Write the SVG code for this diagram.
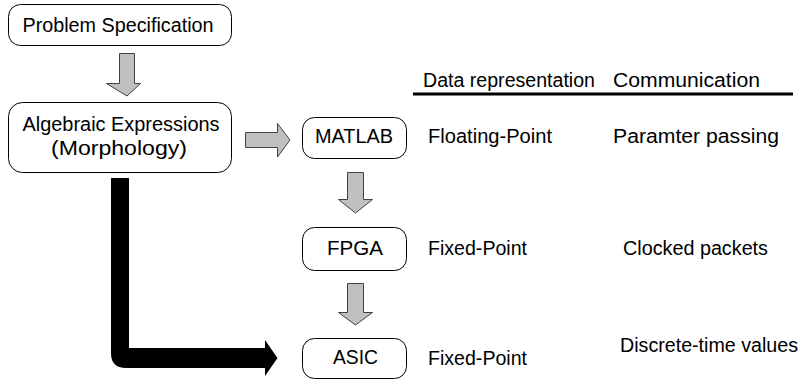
<svg xmlns="http://www.w3.org/2000/svg" width="801" height="382" viewBox="0 0 801 382">
<style>
.box{fill:#fff;stroke:#000;stroke-width:1}
.t{font-family:"Liberation Sans",Arial,sans-serif;font-size:19.5px;fill:#000}
.c{text-anchor:middle}
.ga{fill:#c0c0c0;stroke:#404040;stroke-width:1}
</style>
<rect width="801" height="382" fill="#fff"/>
<g id="problem">
<rect class="box" x="8.5" y="4.5" width="223" height="41" rx="12"/>
<text class="t c" x="118" y="32" textLength="191" lengthAdjust="spacingAndGlyphs">Problem Specification</text>
</g>
<g id="algebraic">
<rect class="box" x="8.5" y="102.5" width="223" height="70" rx="14"/>
<text class="t c" x="121" y="131" textLength="197" lengthAdjust="spacingAndGlyphs">Algebraic Expressions</text>
<text class="t c" x="119" y="155" textLength="136" lengthAdjust="spacingAndGlyphs">(Morphology)</text>
</g>
<g id="matlab">
<rect class="box" x="302.5" y="117.5" width="104" height="41" rx="12"/>
<text class="t c" x="354" y="143" textLength="78" lengthAdjust="spacingAndGlyphs">MATLAB</text>
</g>
<g id="fpga">
<rect class="box" x="302.5" y="227.5" width="104" height="43" rx="12"/>
<text class="t c" x="355" y="255" textLength="56" lengthAdjust="spacingAndGlyphs">FPGA</text>
</g>
<g id="asic">
<rect class="box" x="302.5" y="338.5" width="104" height="40" rx="12"/>
<text class="t c" x="355.5" y="364" textLength="45" lengthAdjust="spacingAndGlyphs">ASIC</text>
</g>
<g id="table">
<text class="t" x="423" y="87" textLength="172" lengthAdjust="spacingAndGlyphs">Data representation</text>
<text class="t" x="613" y="87" textLength="147" lengthAdjust="spacingAndGlyphs">Communication</text>
<line x1="413" y1="94" x2="793" y2="94" stroke="#000" stroke-width="3"/>
<text class="t" x="428" y="143" textLength="124" lengthAdjust="spacingAndGlyphs">Floating-Point</text>
<text class="t" x="613" y="143" textLength="166" lengthAdjust="spacingAndGlyphs">Paramter passing</text>
<text class="t" x="428" y="255" textLength="99" lengthAdjust="spacingAndGlyphs">Fixed-Point</text>
<text class="t" x="623" y="255" textLength="145" lengthAdjust="spacingAndGlyphs">Clocked packets</text>
<text class="t" x="428" y="365" textLength="99" lengthAdjust="spacingAndGlyphs">Fixed-Point</text>
<text class="t" x="620" y="352" textLength="178" lengthAdjust="spacingAndGlyphs">Discrete-time values</text>
</g>
<g id="connectors">
<polygon class="ga" points="119.5,53.5 134.5,53.5 134.5,83.5 140.5,83.5 127,96 106.5,83.5 119.5,83.5"/>
<polygon class="ga" points="245.5,132.5 277.5,132.5 277.5,123.5 290,140 277.5,157 277.5,147.5 245.5,147.5"/>
<polygon class="ga" points="347.5,172.5 363.5,172.5 363.5,199.5 372.5,199.5 355.5,213 338.5,199.5 347.5,199.5"/>
<polygon class="ga" points="347.5,283.5 363.5,283.5 363.5,312.5 372.5,312.5 355.5,325 338.5,312.5 347.5,312.5"/>
<path d="M111,178 H129 V348 H265 V340 L277.5,358 L265,376 V368 H126 Q111,368 111,353 Z" fill="#000"/>
</g>
</svg>
